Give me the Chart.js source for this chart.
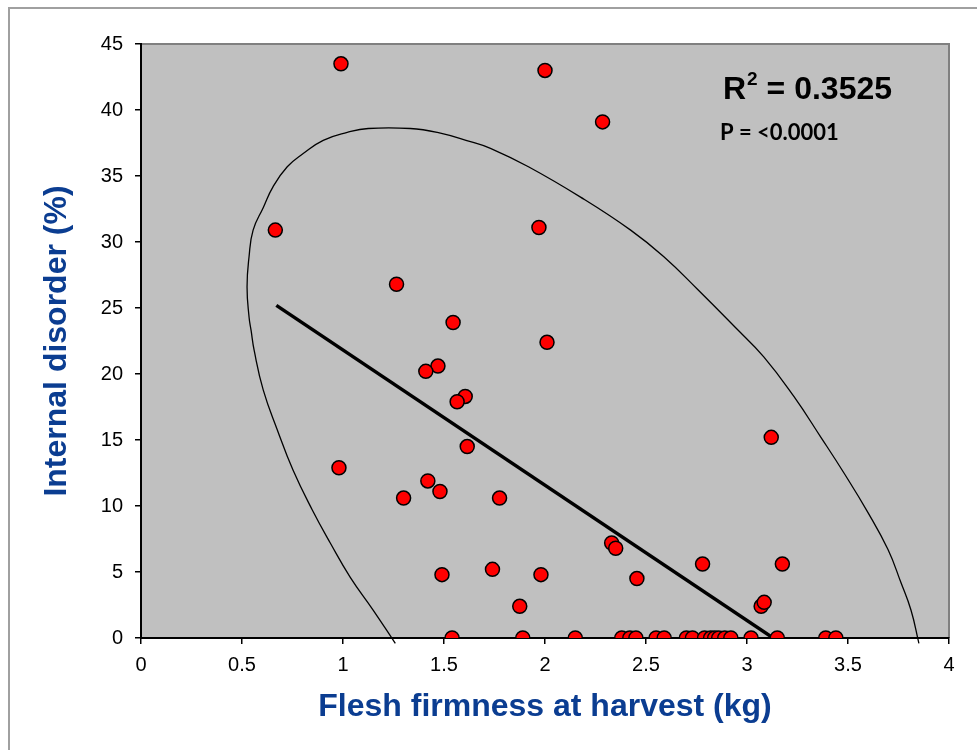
<!DOCTYPE html>
<html>
<head>
<meta charset="utf-8">
<script src="https://cdn.jsdelivr.net/npm/chart.js@4/dist/chart.umd.min.js"></script>
<style>
  html, body { margin: 0; padding: 0; background: #fff; }
  #wrap { width: 977px; height: 750px; position: relative; }
</style>
</head>
<body>
<div id="wrap"><canvas id="firmnessChart"></canvas></div>
<script>
// Flesh firmness (kg) and internal disorder (%) of each fruit sample
const firmness = [
    0.99, 2.00, 2.285, 0.665, 1.97, 1.265, 1.545, 2.01, 1.47, 1.41,
    1.605, 1.565, 1.615, 3.12, 0.98, 1.42, 1.48, 1.30, 1.775, 2.33,
    2.35, 2.455, 2.78, 3.175, 3.07, 3.085, 1.98, 1.49, 1.74, 1.875,
    1.54, 1.89, 2.15, 2.38, 2.42, 2.45, 2.55, 2.59, 2.70, 2.73,
    2.79, 2.82, 2.84, 2.86, 2.89, 2.92, 3.02, 3.15, 3.39, 3.44
];
const disorder = [
    43.5, 43.0, 39.1, 30.9, 31.1, 26.8, 23.9, 22.4, 20.6, 20.2,
    18.3, 17.9, 14.5, 15.2, 12.9, 11.9, 11.1, 10.6, 10.6, 7.2,
    6.8, 4.5, 5.6, 5.6, 2.4, 2.7, 4.8, 4.8, 5.2, 2.4,
    0, 0, 0, 0, 0, 0, 0, 0, 0, 0,
    0, 0, 0, 0, 0, 0, 0, 0, 0, 0
];

// linear trend line end points
const trendX = [0.67, 3.12];
const trendY = [25.2, 0.1];

// outline of the confidence ellipse
const ellipseX = [
    1.259, 1.150, 1.036, 0.937, 0.848, 0.753, 0.674, 0.605, 0.560, 0.545,
    0.535, 0.525, 0.535, 0.555, 0.605, 0.654, 0.724, 0.803, 0.902, 1.021,
    1.125, 1.333, 1.467, 1.631, 1.730, 1.918, 2.176, 2.424, 2.587, 2.756,
    2.944, 3.083, 3.232, 3.366, 3.480, 3.599, 3.698, 3.762, 3.812, 3.851
];
const ellipseY = [
    -0.4, 2.1, 4.6, 7.2, 9.7, 12.7, 15.8, 18.8, 21.8, 23.3,
    24.3, 26.6, 28.9, 30.9, 32.6, 34.2, 35.7, 36.7, 37.7, 38.3,
    38.6, 38.6, 38.3, 37.6, 37.1, 35.7, 33.4, 30.9, 28.9, 26.4,
    23.5, 21.3, 18.3, 15.2, 12.5, 9.5, 6.7, 4.2, 2.1, -0.4
];

const xTicks = [0, 0.5, 1, 1.5, 2, 2.5, 3, 3.5, 4];
const yTicks = [0, 5, 10, 15, 20, 25, 30, 35, 40, 45];

const toPoints = (xs, ys) => xs.map((x, i) => ({ x: x, y: ys[i] }));

const titleBlue = '#0b3d91';
const arial = '"Liberation Sans", Arial, sans-serif';

// grey plot area, frame and the R² / P notes
const decorPlugin = {
    id: 'decor',
    beforeDraw(chart) {
        const { ctx, chartArea: a } = chart;
        ctx.save();
        ctx.fillStyle = '#c0c0c0';
        ctx.fillRect(a.left, a.top, a.right - a.left, a.bottom - a.top);
        ctx.strokeStyle = '#808080';
        ctx.lineWidth = 2;
        ctx.beginPath();
        ctx.moveTo(a.left, a.top);
        ctx.lineTo(a.right, a.top);
        ctx.lineTo(a.right, a.bottom);
        ctx.stroke();
        // outer frame, only left and top show in the picture
        ctx.strokeStyle = '#a0a0a0';
        ctx.beginPath();
        ctx.moveTo(9, 760);
        ctx.lineTo(9, 8);
        ctx.lineTo(990, 8);
        ctx.stroke();
        ctx.restore();
    },
    afterDraw(chart) {
        const { ctx } = chart;
        ctx.save();
        ctx.fillStyle = '#000';
        ctx.textBaseline = 'alphabetic';
        ctx.textAlign = 'left';
        ctx.font = 'bold 32px ' + arial;
        let x = 723;
        ctx.fillText('R', x, 99);
        x += ctx.measureText('R').width + 1;
        ctx.font = 'bold 19px ' + arial;
        ctx.fillText('2', x, 85);
        x += ctx.measureText('2').width;
        ctx.font = 'bold 32px ' + arial;
        ctx.fillText(' = 0.3525', x, 99);
        ctx.font = 'bold 22px Lato, "Open Sans", sans-serif';
        ctx.fillText('P = <0.0001', 720, 140);
        ctx.restore();
    }
};

const chartData = {
    datasets: [{
        label: 'Samples',
        data: toPoints(firmness, disorder),
        backgroundColor: '#ff0000',
        borderColor: '#000000',
        borderWidth: 1.5,
        pointRadius: 7,
        pointHoverRadius: 7,
        order: 0
    }, {
        label: 'Trend',
        data: toPoints(trendX, trendY),
        showLine: true,
        borderColor: '#000000',
        borderWidth: 3.5,
        pointRadius: 0,
        order: 1
    }, {
        label: 'Ellipse',
        data: toPoints(ellipseX, ellipseY),
        showLine: true,
        tension: 0.45,
        borderColor: '#000000',
        borderWidth: 1.3,
        pointRadius: 0,
        clip: { left: 0, top: 0, right: 0, bottom: 8 },
        order: 2
    }]
};

const config = {
    type: 'scatter',
    data: chartData,
    options: {
        responsive: true,
        maintainAspectRatio: false,
        animation: false,
        layout: { padding: { left: 0, top: 44, right: 28, bottom: 0 } },
        plugins: {
            legend: { display: false },
            tooltip: { enabled: false }
        },
        scales: {
            x: {
                type: 'linear',
                min: 0,
                max: 4,
                afterBuildTicks: (scale) => { scale.ticks = xTicks.map(v => ({ value: v })); },
                afterFit: (scale) => { scale.height = 112; },
                border: { color: '#000', width: 2 },
                grid: { drawOnChartArea: false, color: '#000', lineWidth: 1.5, tickLength: 6 },
                ticks: {
                    color: '#000',
                    padding: 9,
                    maxRotation: 0,
                    callback: (v) => String(v),
                    font: { family: arial, size: 20 }
                },
                title: {
                    display: true,
                    text: 'Flesh firmness at harvest (kg)',
                    color: titleBlue,
                    font: { family: arial, size: 32, weight: 'bold' },
                    padding: { top: 0, bottom: 24 }
                }
            },
            y: {
                type: 'linear',
                min: 0,
                max: 45,
                afterBuildTicks: (scale) => { scale.ticks = yTicks.map(v => ({ value: v })); },
                afterFit: (scale) => { scale.width = 141; },
                border: { color: '#000', width: 2 },
                grid: { drawOnChartArea: false, color: '#000', lineWidth: 1.5, tickLength: 6 },
                ticks: {
                    color: '#000',
                    padding: 12,
                    callback: (v) => String(v),
                    font: { family: arial, size: 20 }
                },
                title: {
                    display: true,
                    text: 'Internal disorder (%)',
                    color: titleBlue,
                    font: { family: arial, size: 32, weight: 'bold' },
                    padding: { top: 38, bottom: 0 }
                }
            }
        }
    },
    plugins: [decorPlugin]
};

const firmnessChart = new Chart(document.getElementById('firmnessChart'), config);
</script>
</body>
</html>
